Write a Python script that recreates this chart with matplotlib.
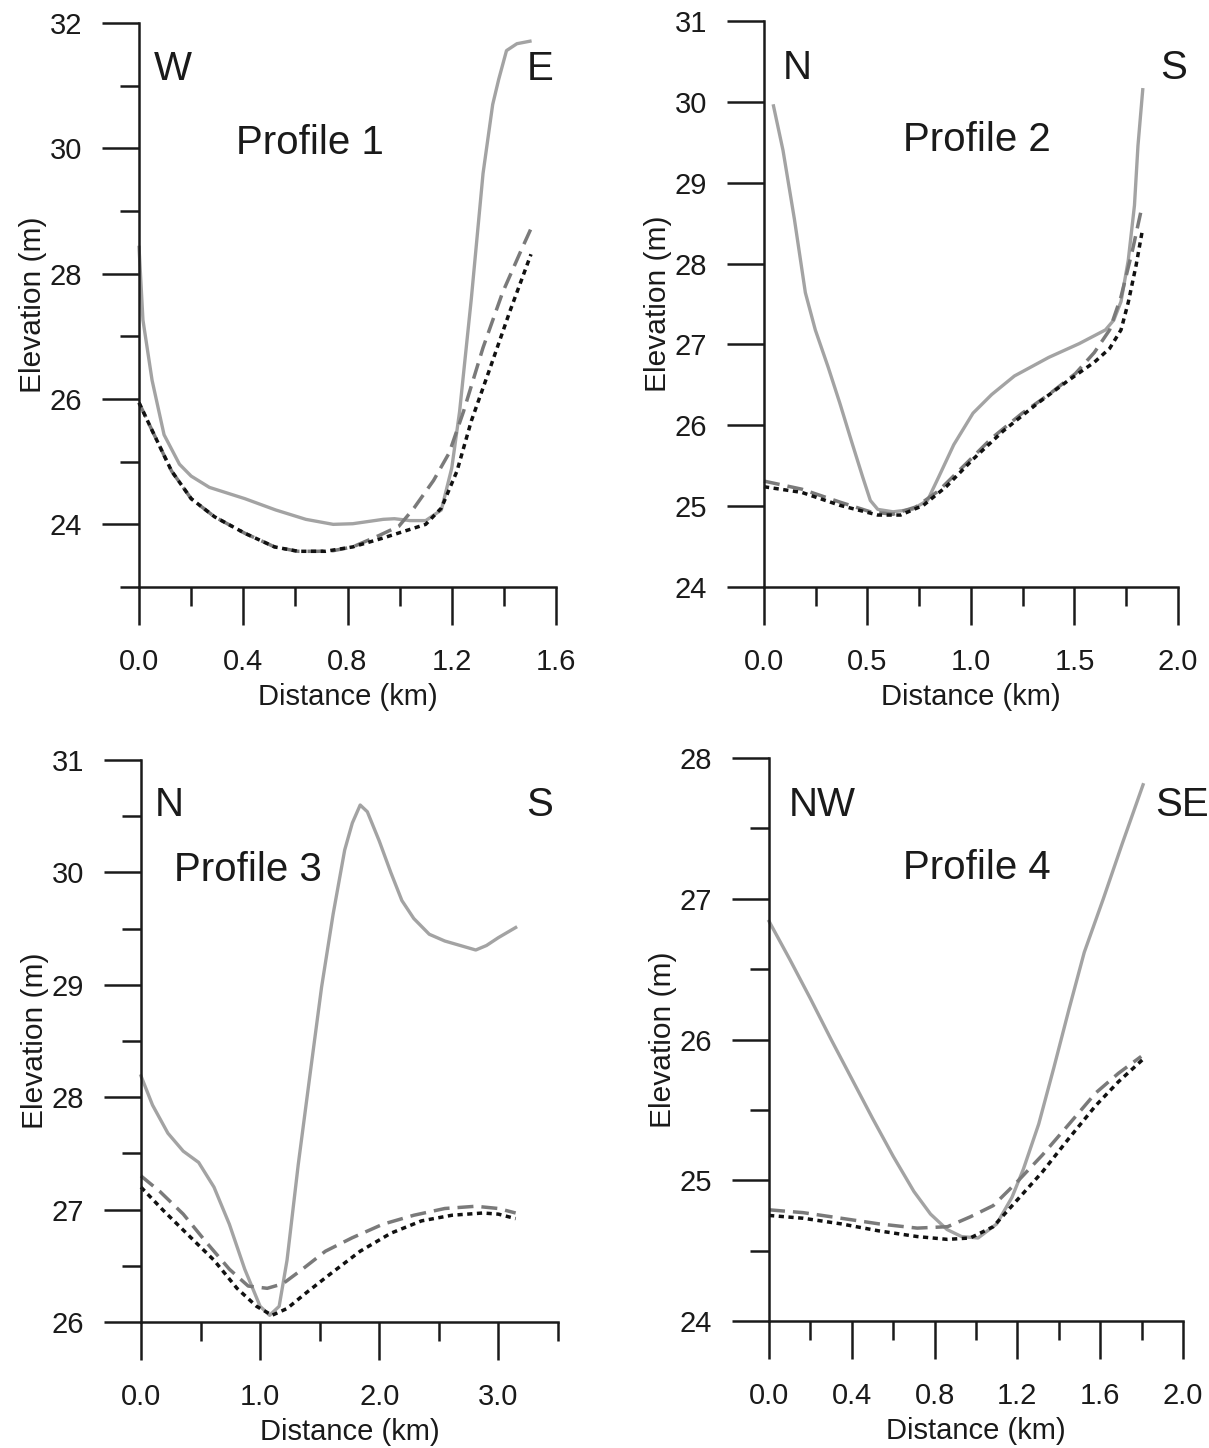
import matplotlib
matplotlib.use("Agg")
import matplotlib.pyplot as plt
from matplotlib.ticker import MultipleLocator

plt.rcParams["font.family"] = ["Liberation Sans", "DejaVu Sans"]

# Profile 1 (W - E)
p1_solid_x = [0, 0.015, 0.05, 0.096, 0.155, 0.2, 0.27, 0.406, 0.524, 0.64, 0.745, 0.82, 0.937,
              0.98, 1.04, 1.10, 1.16, 1.2, 1.23, 1.275, 1.32, 1.357, 1.38, 1.41, 1.45, 1.50]
p1_solid_y = [28.42, 27.26, 26.3, 25.43, 24.96, 24.77, 24.59, 24.41, 24.23, 24.08, 24.0, 24.01, 24.08,
              24.09, 24.06, 24.06, 24.23, 24.9, 25.8, 27.6, 29.6, 30.7, 31.1, 31.56, 31.67, 31.71]
p1_dash_x = [0, 0.05, 0.125, 0.2, 0.29, 0.405, 0.52, 0.61, 0.686, 0.745, 0.82, 0.92, 0.997,
             1.055, 1.13, 1.19, 1.245, 1.32, 1.395, 1.468, 1.504]
p1_dash_y = [25.94, 25.5, 24.85, 24.41, 24.12, 23.86, 23.64, 23.57, 23.57, 23.58, 23.64, 23.82, 23.97,
             24.26, 24.7, 25.14, 25.8, 26.82, 27.7, 28.39, 28.72]
p1_dot_x = [0, 0.05, 0.125, 0.2, 0.29, 0.405, 0.52, 0.61, 0.715, 0.82, 0.935, 1.025, 1.10,
            1.16, 1.22, 1.275, 1.35, 1.423, 1.504]
p1_dot_y = [25.94, 25.5, 24.85, 24.41, 24.12, 23.86, 23.64, 23.57, 23.57, 23.64, 23.78, 23.9, 24.0,
            24.26, 24.85, 25.65, 26.53, 27.4, 28.31]

# Profile 2 (N - S)
p2_solid_x = [0.046, 0.092, 0.147, 0.20, 0.248, 0.31, 0.367, 0.422, 0.477, 0.514, 0.55, 0.624, 0.716,
              0.79, 0.844, 0.917, 1.01, 1.10, 1.21, 1.376, 1.523, 1.65, 1.69, 1.725, 1.76, 1.79,
              1.807, 1.83]
p2_solid_y = [29.95, 29.40, 28.55, 27.64, 27.18, 26.72, 26.27, 25.81, 25.36, 25.07, 24.96, 24.93, 24.96,
              25.07, 25.36, 25.76, 26.15, 26.38, 26.61, 26.84, 27.01, 27.18, 27.3, 27.53, 28.04, 28.72,
              29.46, 30.15]
p2_dash_x = [0, 0.183, 0.367, 0.514, 0.624, 0.734, 0.844, 0.99, 1.10, 1.248, 1.376, 1.505, 1.596,
             1.67, 1.725, 1.78, 1.826]
p2_dash_y = [25.31, 25.21, 25.05, 24.93, 24.9, 24.99, 25.19, 25.56, 25.84, 26.15, 26.38, 26.64, 26.9,
             27.18, 27.59, 28.16, 28.7]
p2_dot_x = [0, 0.183, 0.367, 0.55, 0.66, 0.77, 0.88, 1.01, 1.156, 1.321, 1.468, 1.596, 1.67,
            1.725, 1.76, 1.798, 1.826]
p2_dot_y = [25.24, 25.17, 25.01, 24.89, 24.89, 25.01, 25.24, 25.58, 25.93, 26.27, 26.55, 26.78, 26.95,
            27.18, 27.52, 27.98, 28.38]

# Profile 3 (N - S)
p3_solid_x = [0, 0.097, 0.226, 0.355, 0.484, 0.613, 0.742, 0.871, 1.0, 1.08, 1.16, 1.226, 1.32,
              1.42, 1.516, 1.613, 1.71, 1.774, 1.84, 1.90, 2.0, 2.097, 2.19, 2.29, 2.42, 2.55,
              2.68, 2.81, 2.90, 3.0, 3.145]
p3_solid_y = [28.19, 27.93, 27.68, 27.52, 27.42, 27.2, 26.87, 26.47, 26.14, 26.06, 26.14, 26.55, 27.4,
              28.21, 28.98, 29.63, 30.2, 30.44, 30.6, 30.54, 30.28, 30.0, 29.75, 29.59, 29.45, 29.39,
              29.35, 29.31, 29.35, 29.42, 29.51]
p3_dash_x = [0, 0.16, 0.355, 0.548, 0.742, 0.9, 1.06, 1.19, 1.355, 1.548, 1.774, 2.03, 2.29,
             2.55, 2.81, 3.0, 3.145]
p3_dash_y = [27.30, 27.16, 26.96, 26.71, 26.47, 26.32, 26.3, 26.34, 26.47, 26.63, 26.75, 26.87, 26.95,
             27.01, 27.03, 27.01, 26.97]
p3_dot_x = [0, 0.19, 0.42, 0.613, 0.806, 0.97, 1.1, 1.226, 1.387, 1.58, 1.84, 2.097, 2.355,
            2.61, 2.87, 3.0, 3.145]
p3_dot_y = [27.2, 26.99, 26.75, 26.55, 26.3, 26.14, 26.06, 26.12, 26.26, 26.42, 26.63, 26.79, 26.9,
            26.95, 26.97, 26.96, 26.92]

# Profile 4 (NW - SE)
p4_solid_x = [0, 0.1, 0.2, 0.3, 0.4, 0.5, 0.6, 0.7, 0.78, 0.86, 0.93, 1.01, 1.10, 1.174,
              1.229, 1.303, 1.376, 1.45, 1.523, 1.615, 1.706, 1.807]
p4_solid_y = [26.84, 26.57, 26.29, 26.0, 25.72, 25.44, 25.17, 24.92, 24.76, 24.65, 24.6, 24.59, 24.69, 24.88,
              25.08, 25.4, 25.8, 26.22, 26.62, 27.0, 27.39, 27.81]
p4_dash_x = [0, 0.165, 0.349, 0.532, 0.716, 0.862, 0.972, 1.083, 1.193, 1.321, 1.45, 1.578, 1.688, 1.798]
p4_dash_y = [24.79, 24.77, 24.73, 24.69, 24.66, 24.67, 24.74, 24.82, 24.98, 25.18, 25.40, 25.62, 25.76, 25.88]
p4_dot_x = [0, 0.165, 0.349, 0.532, 0.716, 0.862, 0.972, 1.083, 1.193, 1.321, 1.45, 1.578, 1.688, 1.807]
p4_dot_y = [24.75, 24.73, 24.69, 24.64, 24.6, 24.58, 24.59, 24.67, 24.85, 25.06, 25.3, 25.53, 25.70, 25.86]

TXT = "#1a1a1a"


def draw_profile(ax, solid, dash, dot, xlim, ylim, xmaj, xmin, ymaj, ymin,
                 title, left_lbl, right_lbl, pos):
    ax.plot(solid[0], solid[1], color="#a3a3a3", lw=2.4)
    ax.plot(dash[0], dash[1], color="#7a7a7a", lw=2.5, dashes=(4.6, 2.3))
    ax.plot(dot[0], dot[1], color="#111111", lw=2.5, dashes=(1.5, 1.3))

    ax.set_xlim(*xlim)
    ax.set_ylim(*ylim)
    ax.xaxis.set_major_locator(MultipleLocator(xmaj))
    ax.xaxis.set_minor_locator(MultipleLocator(xmin))
    ax.yaxis.set_major_locator(MultipleLocator(ymaj))
    if ymin:
        ax.yaxis.set_minor_locator(MultipleLocator(ymin))
    ax.xaxis.set_major_formatter(lambda v, p: f"{v:.1f}")

    for s in ["top", "right"]:
        ax.spines[s].set_visible(False)
    for s in ["left", "bottom"]:
        ax.spines[s].set_linewidth(1.8)
        ax.spines[s].set_color(TXT)
    ax.tick_params(which="major", direction="out", length=27, width=1.8,
                   color=TXT, labelsize=21, labelcolor=TXT)
    ax.tick_params(which="minor", direction="out", length=13.5, width=1.8, color=TXT)
    ax.tick_params(axis="y", which="major", pad=14)
    ax.tick_params(axis="x", which="major", pad=17)

    ax.set_xlabel("Distance (km)", fontsize=21, color=TXT, labelpad=5)
    ax.set_ylabel("Elevation (m)", fontsize=21.5, color=TXT, labelpad=2)

    ax.text(pos[0], pos[1], left_lbl, transform=ax.transAxes, ha="center", va="center",
            fontsize=29, color=TXT)
    ax.text(pos[2], pos[1], right_lbl, transform=ax.transAxes, ha="center", va="center",
            fontsize=29, color=TXT)
    ax.text(pos[3], pos[4], title, transform=ax.transAxes, ha="center", va="center",
            fontsize=29, color=TXT)
    for ln in ax.lines:
        ln.set_clip_on(False)


fig = plt.figure(figsize=(12.09, 14.48), dpi=100)
ax1 = fig.add_axes([0.1150, 0.5946, 0.3449, 0.3895])
ax2 = fig.add_axes([0.6319, 0.5946, 0.3424, 0.3909])
ax3 = fig.add_axes([0.1166, 0.0870, 0.3449, 0.3881])
ax4 = fig.add_axes([0.6361, 0.0877, 0.3424, 0.3888])

draw_profile(ax1, (p1_solid_x, p1_solid_y), (p1_dash_x, p1_dash_y), (p1_dot_x, p1_dot_y),
             (0, 1.6), (23, 32), 0.4, 0.2, 2, 1, "Profile 1", "W", "E",
             (0.082, 0.918, 0.962, 0.41, 0.787))
draw_profile(ax2, (p2_solid_x, p2_solid_y), (p2_dash_x, p2_dash_y), (p2_dot_x, p2_dot_y),
             (0, 2.0), (24, 31), 0.5, 0.25, 1, None, "Profile 2", "N", "S",
             (0.080, 0.917, 0.99, 0.515, 0.79))
draw_profile(ax3, (p3_solid_x, p3_solid_y), (p3_dash_x, p3_dash_y), (p3_dot_x, p3_dot_y),
             (0, 3.5), (26, 31), 1.0, 0.5, 1, 0.5, "Profile 3", "N", "S",
             (0.067, 0.92, 0.957, 0.257, 0.804))
draw_profile(ax4, (p4_solid_x, p4_solid_y), (p4_dash_x, p4_dash_y), (p4_dot_x, p4_dot_y),
             (0, 2.0), (24, 28), 0.4, 0.2, 1, 0.5, "Profile 4", "NW", "SE",
             (0.128, 0.917, 0.998, 0.502, 0.805))

fig.savefig("out.png", dpi=100, facecolor="white")
